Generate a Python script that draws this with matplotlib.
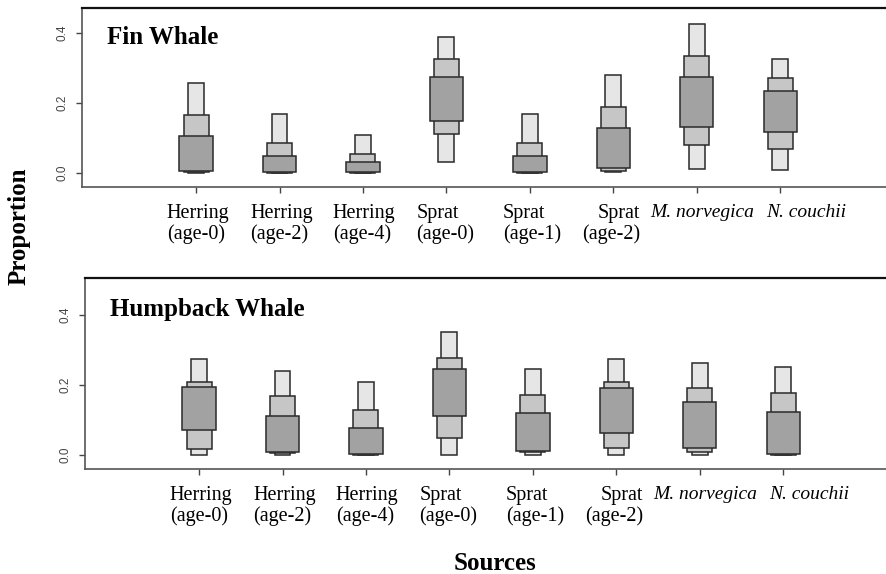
import numpy as np
import matplotlib
matplotlib.use("Agg")
import matplotlib.pyplot as plt
from matplotlib.transforms import blended_transform_factory, ScaledTranslation

sources = ["Herring\n(age-0)", "Herring\n(age-2)", "Herring\n(age-4)", "Sprat\n(age-0)",
           "Sprat\n(age-1)", "Sprat\n(age-2)", "M. norvegica", "N. couchii"]
label_align = ["left", "left", "left", "left", "left", "right", "center", "center"]

# Fin whale credible intervals (95 / 75 / 50 %)
fin_hi95 = [0.255, 0.167, 0.108, 0.389, 0.167, 0.279, 0.424, 0.324]
fin_hi75 = [0.164, 0.086, 0.053, 0.326, 0.086, 0.188, 0.333, 0.270]
fin_hi50 = [0.105, 0.048, 0.030, 0.274, 0.048, 0.129, 0.274, 0.234]
fin_lo50 = [0.006, 0.001, 0.001, 0.149, 0.001, 0.014, 0.131, 0.115]
fin_lo75 = [0.002, 0.000, 0.000, 0.110, 0.000, 0.006, 0.079, 0.068]
fin_lo95 = [0.000, 0.000, 0.000, 0.031, 0.000, 0.001, 0.010, 0.008]

# Humpback whale credible intervals
hump_hi95 = [0.275, 0.240, 0.208, 0.352, 0.245, 0.275, 0.262, 0.252]
hump_hi75 = [0.208, 0.167, 0.129, 0.277, 0.172, 0.209, 0.192, 0.176]
hump_hi50 = [0.193, 0.112, 0.075, 0.245, 0.119, 0.190, 0.150, 0.121]
hump_lo50 = [0.071, 0.009, 0.002, 0.111, 0.011, 0.063, 0.019, 0.003]
hump_lo75 = [0.017, 0.005, 0.000, 0.049, 0.007, 0.020, 0.009, 0.000]
hump_lo95 = [0.000, 0.000, 0.000, 0.000, 0.000, 0.000, 0.000, 0.000]

SERIF = "Liberation Serif"
W, H = 887, 574

# nudges (pixels) for the source labels, as laid out in the original
label_dx = [2, 2, 1, -1, 2, -2, 5, -14]
label_ha = ["center"] * 7 + ["left"]


def draw_panel(ax, lo95, hi95, lo75, hi75, lo50, hi50, title, ytop):
    x = np.arange(1, len(sources) + 1)
    # widest/darkest box last so it sits on top
    for lo, hi, w, c in [(lo95, hi95, 0.19, "#e6e6e6"),
                         (lo75, hi75, 0.30, "#c6c6c6"),
                         (lo50, hi50, 0.40, "#a2a2a2")]:
        lo = np.array(lo)
        hi = np.array(hi)
        ax.bar(x, hi - lo, bottom=lo, width=w, color=c, edgecolor="#2a2a2a", linewidth=1.1)

    ax.set_xlim(-0.367, 9.28)
    ax.set_ylim(-0.041, ytop)
    ax.set_yticks([0.0, 0.2, 0.4])
    ax.set_yticklabels(["0.0", "0.2", "0.4"], rotation=90, va="center",
                       fontfamily="Liberation Sans", fontsize=8.5, color="#444444")
    ax.set_xticks(x)
    ax.set_xticklabels([])
    ax.tick_params(axis="x", length=4.3, width=1.0, color="#444444")
    ax.tick_params(axis="y", length=4.0, width=1.0, color="#444444", pad=6)

    base = blended_transform_factory(ax.transData, ax.transAxes)
    for i, (xi, txt) in enumerate(zip(x, sources)):
        tr = base + ScaledTranslation(label_dx[i] / 100, -17 / 100, ax.figure.dpi_scale_trans)
        italic = i >= 6
        ax.text(xi, 0, txt, transform=tr, ha=label_ha[i], va="top",
                multialignment=label_align[i], linespacing=1.1, fontfamily=SERIF,
                fontsize=14 if italic else 14.5, fontstyle="italic" if italic else "normal")

    ax.spines["right"].set_visible(False)
    ax.spines["top"].set_color("#111111")
    ax.spines["top"].set_linewidth(1.6)
    for s in ["left", "bottom"]:
        ax.spines[s].set_color("#555555")
        ax.spines[s].set_linewidth(1.2)

    ax.text(0.031, 0.80, title, transform=ax.transAxes, ha="left", va="baseline",
            fontfamily=SERIF, fontweight="bold", fontsize=18)


fig = plt.figure(figsize=(W / 100, H / 100), dpi=100)

ax1 = fig.add_axes([82 / W, 1 - 187 / H, 805 / W, 179 / H])
draw_panel(ax1, fin_lo95, fin_hi95, fin_lo75, fin_hi75, fin_lo50, fin_hi50, "Fin Whale", 0.4706)

ax2 = fig.add_axes([85 / W, 1 - 469 / H, 805 / W, 190.7 / H])
draw_panel(ax2, hump_lo95, hump_hi95, hump_lo75, hump_hi75, hump_lo50, hump_hi50,
           "Humpback Whale", 0.505)

fig.text(19 / W, 1 - 226 / H, "Proportion", rotation=90, ha="center", va="center",
         fontfamily=SERIF, fontweight="bold", fontsize=18)
fig.text(495 / W, 1 - 564 / H, "Sources", ha="center", va="center",
         fontfamily=SERIF, fontweight="bold", fontsize=18)

fig.savefig("out.png", dpi=100)
